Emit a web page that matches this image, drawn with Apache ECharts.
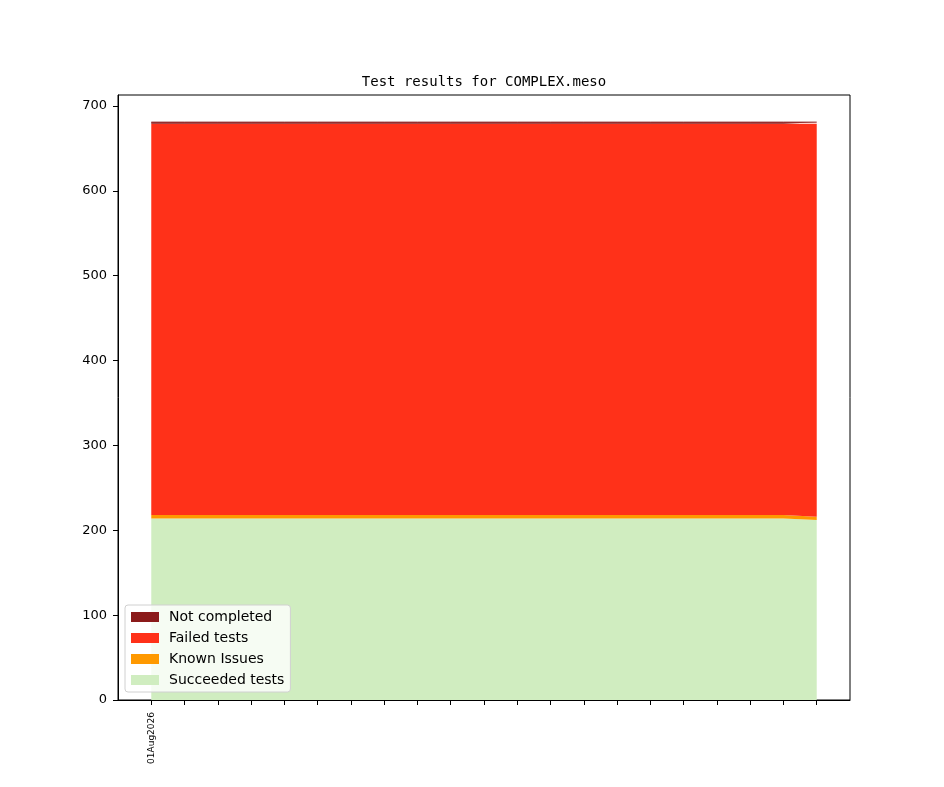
<!DOCTYPE html>
<html>
<head>
<meta charset="utf-8">
<script src="https://cdn.jsdelivr.net/npm/echarts@6/dist/echarts.min.js"></script>
<style>
  html, body { margin: 0; padding: 0; background: #fff; }
  #chart { width: 944px; height: 787px; }
</style>
</head>
<body>
<div id="chart"></div>
<script>
// one point per run, only the first tick carries a date label
var tickLabels = ['01Aug2026','','','','','','','','','','','','','','','','','','','',''];
var succeeded     = [214,214,214,214,214,214,214,214,214,214,214,214,214,214,214,214,214,214,214,214,212];
var knownIssues   = [4,4,4,4,4,4,4,4,4,4,4,4,4,4,4,4,4,4,4,4,4];
var failed        = [461,461,461,461,461,461,461,461,461,461,461,461,461,461,461,461,461,461,461,461,463];
var notCompleted  = [2,2,2,2,2,2,2,2,2,2,2,2,2,2,2,2,2,2,2,2,2];
var yTicks = [0,100,200,300,400,500,600,700];
var yMax = 713;

var colors = {
  'Succeeded tests': '#d0edc0',
  'Known Issues': '#ff9900',
  'Failed tests': '#ff3119',
  'Not completed': '#8b1a1a'
};

var categories = tickLabels.map(function (t, i) { return 'run' + i; });

// frame is 118..850; the data span leaves one step of margin on each side
var frameLeft = 118, frameRight = 94, frameW = 944 - frameLeft - frameRight;
var step = frameW / (categories.length + 1);

function layer(name, vals, lineW) {
  return {
    name: name,
    type: 'line',
    stack: 'total',
    xAxisIndex: 0,
    yAxisIndex: 0,
    data: vals,
    showSymbol: false,
    symbol: 'none',
    silent: true,
    itemStyle: { color: colors[name] },
    lineStyle: { width: lineW || 0, color: colors[name] },
    areaStyle: { color: colors[name], opacity: 1 }
  };
}

var chart = echarts.init(document.getElementById('chart'));
var option = {
  animation: false,
  backgroundColor: '#fff',
  title: {
    text: 'Test results for COMPLEX.meso',
    left: 479,
    textAlign: 'center',
    top: 70,
    textStyle: { fontFamily: 'DejaVu Sans Mono', fontSize: 14, fontWeight: 'normal', color: '#000' }
  },
  grid: [
    { left: frameLeft + step, right: frameRight + step, top: 95, bottom: 87 },
    { left: frameLeft, right: frameRight, top: 95, bottom: 87,
      show: true, borderColor: '#000', borderWidth: 1, backgroundColor: 'transparent' }
  ],
  legend: {
    orient: 'vertical',
    left: 125,
    top: 605,
    data: ['Not completed', 'Failed tests', 'Known Issues', 'Succeeded tests'],
    icon: 'rect',
    itemWidth: 28,
    itemHeight: 10,
    itemGap: 7,
    padding: [5, 6, 5, 6],
    backgroundColor: 'rgba(255,255,255,0.8)',
    borderColor: '#d0d0d0',
    borderWidth: 1,
    borderRadius: 3,
    z: 10,
    textStyle: { fontFamily: 'DejaVu Sans', fontSize: 14, color: '#000', lineHeight: 14, padding: [0, 0, 0, 5] }
  },
  xAxis: [
    {
      gridIndex: 0,
      type: 'category',
      data: categories,
      boundaryGap: false,
      splitLine: { show: false },
      axisLine: { show: false },
      axisTick: { show: true, interval: 0, length: 5, lineStyle: { color: '#000' } },
      axisLabel: {
        interval: 0,
        rotate: 90,
        margin: 12,
        fontFamily: 'DejaVu Sans',
        fontSize: 9,
        color: '#000',
        formatter: function (v, i) { return tickLabels[i]; }
      }
    },
    {
      gridIndex: 1,
      type: 'value',
      min: 0, max: 1,
      splitLine: { show: false },
      axisLine: { show: true, lineStyle: { color: '#000' } },
      axisTick: { show: false },
      axisLabel: { show: false }
    }
  ],
  yAxis: [
    {
      gridIndex: 0,
      type: 'value',
      min: 0, max: yMax,
      show: false,
      splitLine: { show: false }
    },
    {
      gridIndex: 1,
      type: 'value',
      min: 0, max: yMax,
      splitLine: { show: false },
      axisLine: { show: true, lineStyle: { color: '#000' } },
      axisTick: { show: true, length: 5, lineStyle: { color: '#000' }, customValues: yTicks },
      axisLabel: {
        customValues: yTicks,
        margin: 11,
        fontFamily: 'DejaVu Sans',
        fontSize: 13,
        color: '#000'
      }
    }
  ],
  series: [
    layer('Succeeded tests', succeeded),
    layer('Known Issues', knownIssues),
    layer('Failed tests', failed),
    layer('Not completed', notCompleted, 1)
  ]
};
chart.setOption(option);
</script>
</body>
</html>
